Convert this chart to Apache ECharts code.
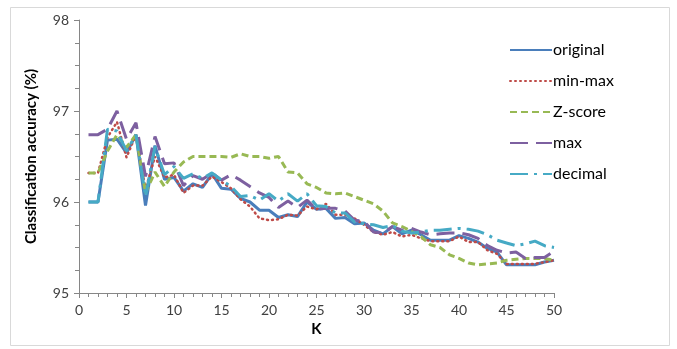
<!DOCTYPE html>
<html>
<head>
<meta charset="utf-8">
<script src="https://cdn.jsdelivr.net/npm/echarts@6/dist/echarts.min.js"></script>
<style>
  html, body { margin: 0; padding: 0; background: #fff; }
  #chart { width: 677px; height: 349px; }
</style>
</head>
<body>
<div id="chart"></div>
<script>
const kValues = [1, 2, 3, 4, 5, 6, 7, 8, 9, 10, 11, 12, 13, 14, 15, 16, 17, 18, 19, 20,
  21, 22, 23, 24, 25, 26, 27, 28, 29, 30, 31, 32, 33, 34, 35, 36, 37, 38, 39, 40,
  41, 42, 43, 44, 45, 46, 47, 48, 49, 50]

const original = [96.0, 96.0, 96.68, 96.69, 96.54, 96.74, 95.96, 96.62, 96.25, 96.27,
  96.12, 96.2, 96.16, 96.31, 96.15, 96.14, 96.04, 96.0, 95.91, 95.91,
  95.83, 95.86, 95.84, 96.0, 95.92, 95.93, 95.82, 95.83, 95.76, 95.77,
  95.69, 95.65, 95.73, 95.65, 95.69, 95.64, 95.58, 95.58, 95.58, 95.63,
  95.6, 95.56, 95.49, 95.45, 95.31, 95.31, 95.31, 95.31, 95.34, 95.36]

const minMax = [96.32, 96.32, 96.71, 96.88, 96.49, 96.74, 96.14, 96.5, 96.27, 96.3,
  96.1, 96.18, 96.18, 96.28, 96.22, 96.15, 96.03, 95.95, 95.82, 95.8,
  95.81, 95.86, 95.85, 95.95, 95.92, 95.98, 95.86, 95.86, 95.82, 95.75,
  95.67, 95.64, 95.67, 95.62, 95.64, 95.6, 95.57, 95.57, 95.57, 95.62,
  95.56, 95.56, 95.47, 95.43, 95.32, 95.32, 95.32, 95.32, 95.34, 95.36]

const zScore = [96.32, 96.32, 96.56, 96.74, 96.6, 96.74, 96.1, 96.33, 96.17, 96.33,
  96.44, 96.5, 96.5, 96.5, 96.5, 96.49, 96.53, 96.5, 96.5, 96.48,
  96.5, 96.33, 96.32, 96.2, 96.16, 96.1, 96.09, 96.1, 96.06, 96.02,
  95.98, 95.9, 95.77, 95.73, 95.68, 95.62, 95.53, 95.5, 95.42, 95.38,
  95.33, 95.31, 95.32, 95.33, 95.36, 95.37, 95.38, 95.38, 95.38, 95.36]

const maxNorm = [96.74, 96.74, 96.8, 97.0, 96.69, 96.87, 96.28, 96.72, 96.42, 96.43,
  96.18, 96.29, 96.25, 96.32, 96.24, 96.3, 96.24, 96.17, 96.1, 96.05,
  95.94, 96.01, 95.94, 96.02, 95.92, 95.93, 95.93, 95.9, 95.8, 95.79,
  95.67, 95.66, 95.73, 95.69, 95.71, 95.67, 95.64, 95.65, 95.66, 95.66,
  95.64, 95.6, 95.52, 95.47, 95.44, 95.45, 95.38, 95.39, 95.39, 95.46]

const decimal = [96.0, 96.0, 96.8, 96.78, 96.56, 96.74, 96.06, 96.61, 96.3, 96.39,
  96.26, 96.31, 96.26, 96.32, 96.24, 96.17, 96.06, 96.07, 96.02, 96.09,
  96.01, 96.09, 96.01, 96.09, 95.96, 95.95, 95.88, 95.88, 95.78, 95.76,
  95.75, 95.72, 95.74, 95.68, 95.66, 95.67, 95.69, 95.69, 95.7, 95.71,
  95.7, 95.68, 95.64, 95.58, 95.55, 95.52, 95.54, 95.57, 95.52, 95.5]

const seriesNames = ['original', 'min-max', 'Z-score', 'max', 'decimal']

const font = 'Lato, "Open Sans", sans-serif'

const pairs = (vals) => kValues.map((k, i) => [k, vals[i]])

const makeLine = (name, vals, color, width, type, cap) => ({
  name,
  type: 'line',
  symbol: 'none',
  data: pairs(vals),
  lineStyle: { color, width, type, cap: cap || 'butt' },
  itemStyle: { color },
  z: 2,
})

const chart = echarts.init(document.getElementById('chart'), null, { renderer: 'canvas' })

chart.setOption({
  animation: false,
  backgroundColor: '#fff',
  graphic: [
    {
      type: 'rect',
      shape: { x: 10.5, y: 7.5, width: 659, height: 338 },
      style: { fill: 'none', stroke: '#d9d9d9', lineWidth: 1 },
      silent: true,
    },
  ],
  grid: { left: 79, right: 123, top: 20, bottom: 56 },
  legend: {
    orient: 'vertical',
    left: 504,
    top: 37,
    itemWidth: 42,
    itemHeight: 14,
    itemGap: 15,
    itemStyle: { opacity: 0 },
    textStyle: { fontFamily: font, fontSize: 16, color: '#000', padding: [0, 0, 0, -4] },
    data: seriesNames,
  },
  xAxis: {
    type: 'value',
    min: 0,
    max: 50,
    interval: 5,
    name: 'K',
    nameLocation: 'middle',
    nameGap: 29,
    nameTextStyle: { fontFamily: font, fontSize: 15, fontWeight: 'bold', color: '#000' },
    axisLine: { lineStyle: { color: '#868686', width: 1 } },
    axisTick: { length: 5, lineStyle: { color: '#868686' } },
    minorTick: { show: true, splitNumber: 5, length: 4, lineStyle: { color: '#868686' } },
    axisLabel: { fontFamily: font, fontSize: 14, color: '#404040', margin: 10 },
    splitLine: { show: false },
  },
  yAxis: {
    type: 'value',
    min: 95,
    max: 98,
    interval: 1,
    name: 'Classification accuracy (%)',
    nameLocation: 'middle',
    nameGap: 40,
    nameTextStyle: { fontFamily: font, fontSize: 15, fontWeight: 'bold', color: '#000' },
    axisLine: { show: true, lineStyle: { color: '#868686', width: 1 } },
    axisTick: { show: true, length: 5, lineStyle: { color: '#868686' } },
    minorTick: { show: true, splitNumber: 4, length: 4, lineStyle: { color: '#868686' } },
    axisLabel: { fontFamily: font, fontSize: 14, color: '#404040', margin: 10 },
    splitLine: { show: false },
  },
  series: [
    makeLine('original', original, '#4a7ebb', 3, 'solid'),
    makeLine('min-max', minMax, '#be4b48', 2.5, [1, 4], 'round'),
    makeLine('Z-score', zScore, '#98b954', 3, [7, 4]),
    makeLine('max', maxNorm, '#7d60a0', 3, [18, 8]),
    makeLine('decimal', decimal, '#46aac5', 3, [18, 6, 3, 6]),
  ],
})
</script>
</body>
</html>
